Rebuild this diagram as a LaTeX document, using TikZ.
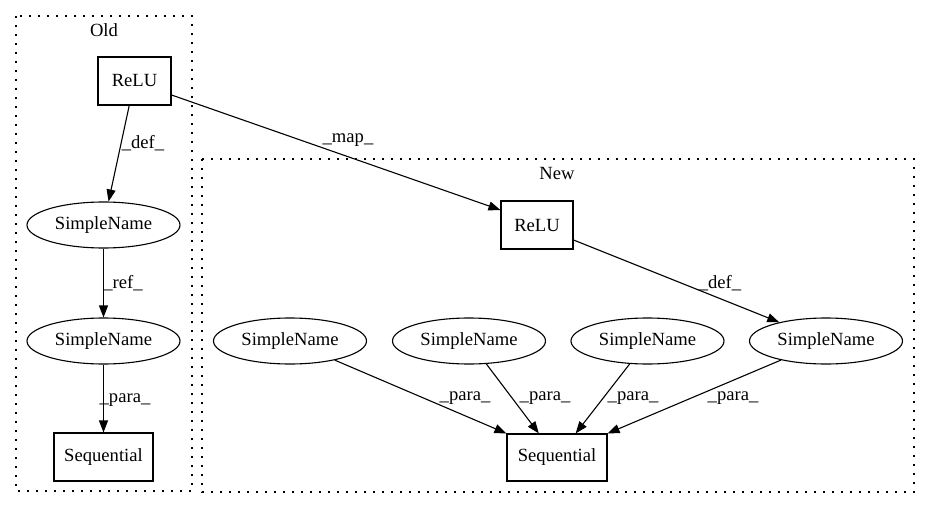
\documentclass[tikz,border=0pt]{standalone}
\usepackage{fontspec}
\setmainfont{Liberation Serif}
\usetikzlibrary{shapes.geometric,arrows.meta}
\begin{document}
\begin{tikzpicture}[x=1pt,y=-1pt,
  every node/.style={font=\fontsize{18.6}{22}\selectfont},
  boxnode/.style={draw,line width=1.1pt,rectangle,inner sep=0pt},
  ellnode/.style={draw,line width=1.1pt,ellipse,inner sep=0pt,minimum width=153pt,minimum height=46pt},
  edge/.style={line width=1.1pt,-{Triangle[length=12pt,width=9pt]}},
  cluster/.style={line width=1.2pt,dash pattern=on 1.6pt off 7.4pt},
  lbl/.style={inner sep=0pt}
]
\useasboundingbox (0,0) rectangle (931,508);
% clusters
\draw[cluster] (16,16) rectangle (192,491);
\draw[cluster] (202,159) rectangle (914,492);
\node[lbl] (oldlbl) at (104,30) {Old};
\node[lbl] (newlbl) at (557,174) {New};
% Old nodes
\node[boxnode,minimum width=73pt,minimum height=48pt] (orelu) at (134.5,81) {ReLU};
\node[ellnode] (osn1) at (103.5,225) {SimpleName};
\node[ellnode] (osn2) at (103.5,341) {SimpleName};
\node[boxnode,minimum width=99pt,minimum height=48pt] (oseq) at (103.5,457) {Sequential};
% New nodes
\node[boxnode,minimum width=72pt,minimum height=48pt] (nrelu) at (537,225) {ReLU};
\node[ellnode] (nsn1) at (290,341) {SimpleName};
\node[ellnode] (nsn2) at (469,341) {SimpleName};
\node[ellnode] (nsn3) at (647.5,341) {SimpleName};
\node[ellnode] (nsn4) at (826,341) {SimpleName};
\node[boxnode,minimum width=100pt,minimum height=47pt] (nseq) at (557,457.5) {Sequential};
% edges
\draw[edge] (orelu) -- (osn1);
\draw[edge] (osn1) -- (osn2);
\draw[edge] (osn2) -- (oseq);
\draw[edge] (orelu.east |- 0,95) -- (nrelu.west |- 0,210);
\draw[edge] (nrelu.east |- 0,240) -- (nsn4);
\draw[edge] (nsn1) -- (nseq.north west);
\draw[edge] (nsn2) -- (nseq);
\draw[edge] (nsn3) -- (nseq);
\draw[edge] (nsn4) -- (nseq.north east);
% labels
\node[lbl] (l1) at (143,143) {\_def\_};
\node[lbl] (l2) at (123,283) {\_ref\_};
\node[lbl] (l3) at (125,400) {\_para\_};
\node[lbl] (l4) at (348,140) {\_map\_};
\node[lbl] (l5) at (720,283) {\_def\_};
\node[lbl] (l6) at (465,398) {\_para\_};
\node[lbl] (l7) at (545,398) {\_para\_};
\node[lbl] (l8) at (633,398) {\_para\_};
\node[lbl] (l9) at (733,398) {\_para\_};
\end{tikzpicture}
\end{document}
